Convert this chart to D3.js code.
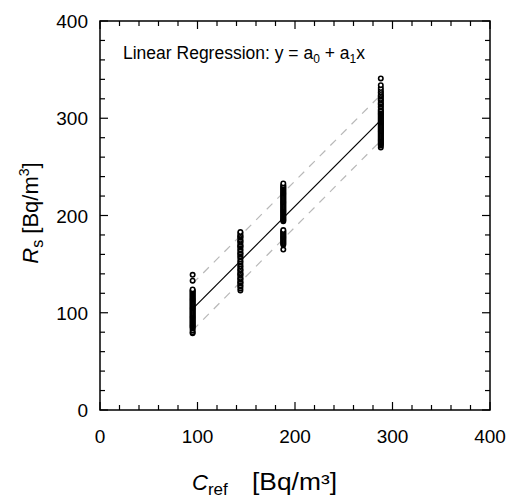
<!DOCTYPE html>
<html><head><meta charset="utf-8">
<script src="https://cdn.jsdelivr.net/npm/d3@7"></script>
<style>body{margin:0;background:#fff}svg{display:block}text{font-family:"Liberation Sans",Arial,sans-serif}</style>
</head><body>
<svg id="c" width="507" height="501"></svg>
<script>
const xTicks = [0, 100, 200, 300, 400];
const yTicks = [0, 100, 200, 300, 400];
const clusterX = [95, 144, 188, 288];
const cluster1 = [79, 80, 82, 84, 85, 86, 87, 88, 89, 90, 91, 92, 93, 94, 95, 96, 97, 98, 99, 100, 101, 102, 103, 104, 105, 106, 107, 108, 109, 110, 111, 112, 113, 114, 115, 116, 117, 118, 119, 120, 121, 122, 123, 124, 133, 139];
const cluster2 = [123, 125, 127, 128, 130, 131, 132, 134, 135, 136, 138, 139, 140, 141, 143, 144, 145, 147, 148, 150, 152, 153, 155, 157, 158, 160, 161, 162, 164, 165, 167, 168, 169, 170, 172, 173, 174, 175, 177, 178, 179, 180, 182, 183];
const cluster3 = [165, 170, 171, 172, 173, 174, 175, 176, 177, 178, 179, 180, 181, 182, 183, 184, 185, 194, 195, 196, 197, 198, 199, 200, 201, 202, 203, 204, 205, 206, 207, 208, 209, 210, 211, 212, 213, 214, 215, 216, 217, 218, 219, 220, 221, 222, 223, 224, 225, 226, 227, 228, 229, 230, 231, 233];
const cluster4 = [270, 272, 273, 274, 275, 276, 277, 278, 279, 280, 281, 282, 283, 284, 285, 286, 287, 288, 289, 290, 291, 292, 293, 294, 295, 296, 297, 298, 299, 300, 301, 302, 303, 304, 305, 306, 307, 308, 309, 311, 312, 314, 315, 316, 318, 319, 320, 322, 323, 324, 326, 327, 329, 331, 334, 341];
const fitX = [95, 288];
const fitY = [104, 298];
const upperY = [130, 324];
const lowerY = [82, 277];

const svg = d3.select("#c");
const L = 100, R = 490, T = 21, B = 410;
const x = d3.scaleLinear().domain([0, 400]).range([L, R]);
const y = d3.scaleLinear().domain([0, 400]).range([B, T]);
const minor = d3.range(0, 401, 20);

const g = svg.append("g").attr("stroke", "#000").attr("stroke-width", 1.2);
minor.forEach(v => {
  const len = v % 100 === 0 ? 8 : 5;
  g.append("line").attr("x1", x(v)).attr("x2", x(v)).attr("y1", B).attr("y2", B - len);
  g.append("line").attr("x1", x(v)).attr("x2", x(v)).attr("y1", T).attr("y2", T + len);
  g.append("line").attr("y1", y(v)).attr("y2", y(v)).attr("x1", L).attr("x2", L + len);
  g.append("line").attr("y1", y(v)).attr("y2", y(v)).attr("x1", R).attr("x2", R - len);
});
svg.append("rect").attr("x", L).attr("y", T).attr("width", R - L).attr("height", B - T)
  .attr("fill", "none").attr("stroke", "#000").attr("stroke-width", 1.5);

svg.append("g").selectAll("text").data(xTicks).join("text")
  .attr("x", d => x(d)).attr("y", 443).attr("text-anchor", "middle")
  .attr("font-size", 19).text(d => d);
svg.append("g").selectAll("text").data(yTicks).join("text")
  .attr("x", 88).attr("y", d => y(d) + 7).attr("text-anchor", "end")
  .attr("font-size", 19).text(d => d);

const line = d3.line().x(d => x(d[0])).y(d => y(d[1]));
[upperY, lowerY].forEach(arr => {
  svg.append("path").attr("d", line(fitX.map((v, i) => [v, arr[i]])))
    .attr("fill", "none").attr("stroke", "#b8b8b8").attr("stroke-width", 1.2)
    .attr("stroke-dasharray", "8,7");
});
svg.append("path").attr("d", line(fitX.map((v, i) => [v, fitY[i]])))
  .attr("fill", "none").attr("stroke", "#000").attr("stroke-width", 1.2);

const clusters = [cluster1, cluster2, cluster3, cluster4];
clusters.forEach((c, i) => {
  svg.append("g").selectAll("circle").data(c).join("circle")
    .attr("cx", x(clusterX[i])).attr("cy", d => y(d)).attr("r", 2.2)
    .attr("fill", "#fff").attr("stroke", "#000").attr("stroke-width", 1.6);
});

const ann = svg.append("text").attr("x", 123).attr("y", 59).attr("font-size", 17.5);
ann.append("tspan").text("Linear Regression: y = a");
ann.append("tspan").attr("font-size", 12).attr("dy", 4).text("0");
ann.append("tspan").attr("dy", -4).text(" + a");
ann.append("tspan").attr("font-size", 12).attr("dy", 4).text("1");
ann.append("tspan").attr("dy", -4).text("x");

const xt = svg.append("text").attr("x", 192).attr("y", 490).attr("font-size", 22);
xt.append("tspan").attr("font-style", "italic").text("C");
xt.append("tspan").attr("font-size", 17).attr("dy", 5).text("ref");
svg.append("text").attr("x", 252).attr("y", 490).attr("font-size", 23)
  .attr("textLength", 85).attr("lengthAdjust", "spacingAndGlyphs").text("[Bq/m³]");

const yt = svg.append("text").attr("transform", "translate(38,213) rotate(-90)")
  .attr("text-anchor", "middle").attr("font-size", 22);
yt.append("tspan").attr("font-style", "italic").text("R");
yt.append("tspan").attr("font-size", 16).attr("dy", 5).text("s");
yt.append("tspan").attr("dy", -5).text(" [Bq/m");
yt.append("tspan").attr("font-size", 14).attr("dy", -9).text("3");
yt.append("tspan").attr("dy", 9).text("]");
</script>
</body></html>
